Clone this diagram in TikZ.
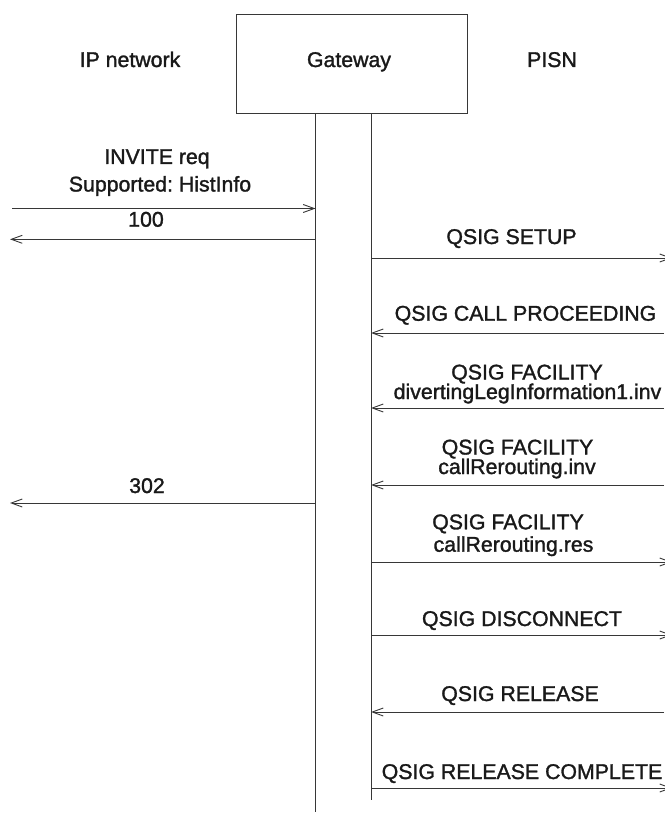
\documentclass[tikz,border=0pt]{standalone}
\usepackage{fontspec}
\setmainfont{Liberation Sans}[FakeBold=1.4]
\frenchspacing
\usetikzlibrary{positioning, arrows.meta}
\definecolor{SigLine}{RGB}{55,55,55}
\definecolor{SigText}{RGB}{25,25,25}

\begin{document}
\begin{tikzpicture}[x=1pt, y=-1pt,
    lbl/.style={font=\fontsize{21.3}{24}\selectfont, text=SigText,
                anchor=base, inner sep=0pt},
    life/.style={SigLine, line width=0.9pt},
    msg/.style={SigLine, line width=0.9pt,
                -{Straight Barb[length=11pt, width=8pt]}}
  ]
  \useasboundingbox (0,0) rectangle (664,813);

  % Headings and gateway box
  \node[draw=SigLine, line width=0.9pt, inner sep=0pt,
        minimum width=230.5pt, minimum height=99.6pt] (gw) at (351.75,63.8) {};
  \node[lbl] (gwname) at (349,67) {Gateway};
  \node[lbl] (ipnet) at (130,67) {IP network};
  \node[lbl] (pisn) at (552,67) {PISN};

  % Lifelines
  \coordinate (ipsideTop) at (315.5,113.6);
  \coordinate (ipsideBot) at (315.5,812);
  \coordinate (qsideTop) at (371,113.6);
  \coordinate (qsideBot) at (371,800);
  \draw[life] (ipsideTop) -- (ipsideBot);
  \draw[life] (qsideTop) -- (qsideBot);

  % IP network side
  \coordinate (invA) at (12,208.5);   \coordinate (invB) at (315.5,208.5);
  \draw[msg] (invA) -- (invB);
  \node[lbl] (invite1) at (157,164) {INVITE req};
  \node[lbl] (invite2) at (160,191.5) {Supported: HistInfo};

  \coordinate (tryA) at (315.5,239.3); \coordinate (tryB) at (10,239.3);
  \draw[msg] (tryA) -- (tryB);
  \node[lbl] (try) at (146,226.7) {100};

  \coordinate (movA) at (315.5,503);   \coordinate (movB) at (10,503);
  \draw[msg] (movA) -- (movB);
  \node[lbl] (mov) at (147,493) {302};

  % PISN side
  \coordinate (setA) at (371,258);     \coordinate (setB) at (672,258);
  \draw[msg] (setA) -- (setB);
  \node[lbl] (setup) at (511.5,244) {QSIG SETUP};

  \coordinate (procA) at (664,333);    \coordinate (procB) at (371,333);
  \draw[msg] (procA) -- (procB);
  \node[lbl] (proc) at (525.5,320.7) {QSIG CALL PROCEEDING};

  \coordinate (dliA) at (664,408);     \coordinate (dliB) at (371,408);
  \draw[msg] (dliA) -- (dliB);
  \node[lbl] (dli1) at (527,379.5) {QSIG FACILITY};
  \node[lbl] (dli2) at (527.5,399) {divertingLegInformation1.inv};

  \coordinate (crinvA) at (664,485);   \coordinate (crinvB) at (371,485);
  \draw[msg] (crinvA) -- (crinvB);
  \node[lbl] (crinv1) at (517.5,454.5) {QSIG FACILITY};
  \node[lbl] (crinv2) at (517,474) {callRerouting.inv};

  \coordinate (cresA) at (371,562);    \coordinate (cresB) at (672,562);
  \draw[msg] (cresA) -- (cresB);
  \node[lbl] (cres1) at (508,529.3) {QSIG FACILITY};
  \node[lbl] (cres2) at (513.5,551.7) {callRerouting.res};

  \coordinate (discA) at (371,635);    \coordinate (discB) at (672,635);
  \draw[msg] (discA) -- (discB);
  \node[lbl] (disc) at (522,626) {QSIG DISCONNECT};

  \coordinate (relA) at (664,712);     \coordinate (relB) at (371,712);
  \draw[msg] (relA) -- (relB);
  \node[lbl] (rel) at (520,701) {QSIG RELEASE};

  \coordinate (rlcA) at (371,788);     \coordinate (rlcB) at (672,788);
  \draw[msg] (rlcA) -- (rlcB);
  \node[lbl] (rlc) at (522,779) {QSIG RELEASE COMPLETE};
\end{tikzpicture}
\end{document}
